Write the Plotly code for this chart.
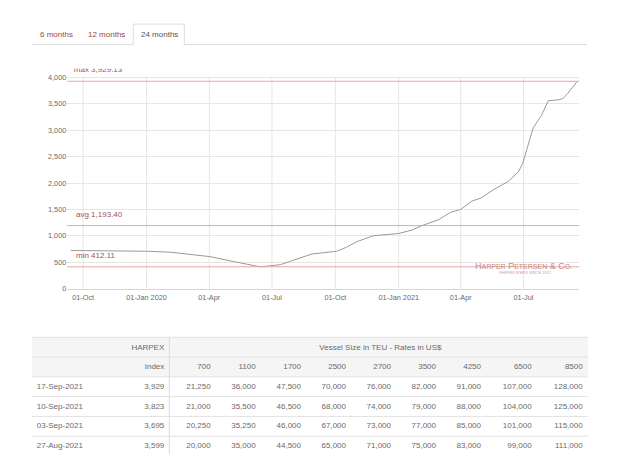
import plotly.graph_objects as go

# Seite hat 8px body-Rand -> Figur etwas kleiner, Koordinaten in Fensterpixeln
OFF = 8
W, H = 636 - 2 * OFF, 467 - 2 * OFF

# HARPEX-Verlauf, 24 Monate
dates = ["2019-09-13", "2019-10-15", "2019-11-08", "2020-01-01", "2020-02-04",
         "2020-03-09", "2020-04-02", "2020-05-06", "2020-05-16", "2020-06-14",
         "2020-07-13", "2020-08-01", "2020-08-28", "2020-09-09", "2020-10-03",
         "2020-10-17", "2020-11-01", "2020-11-25", "2021-01-01", "2021-01-21",
         "2021-02-05", "2021-02-27", "2021-03-18", "2021-04-01", "2021-04-17",
         "2021-05-01", "2021-05-18", "2021-06-09", "2021-06-24", "2021-06-30",
         "2021-07-15", "2021-07-27", "2021-08-06", "2021-08-20", "2021-08-27",
         "2021-09-03", "2021-09-10", "2021-09-17"]
values = [722, 719, 715, 707, 690, 640, 605, 513, 487, 412,
          452, 532, 656, 672, 707, 782, 888, 1001, 1044, 1113,
          1200, 1300, 1450, 1500, 1657, 1719, 1870, 2031, 2219, 2375,
          3044, 3280, 3561, 3575, 3599, 3695, 3823, 3929]

x_ticks = ["2019-10-01", "2020-01-01", "2020-04-01", "2020-07-01",
           "2020-10-01", "2021-01-01", "2021-04-01", "2021-07-01"]
x_ticktext = ["01-Oct", "01-Jan 2020", "01-Apr", "01-Jul",
              "01-Oct", "01-Jan 2021", "01-Apr", "01-Jul"]
y_ticks = [0, 500, 1000, 1500, 2000, 2500, 3000, 3500, 4000]

stat_max = 3929.13
stat_avg = 1193.40
stat_min = 412.11

tabs = ["6 months", "12 months", "24 months"]

# Tabelle
table_dates = ["17-Sep-2021", "10-Sep-2021", "03-Sep-2021", "27-Aug-2021"]
harpex = [3929, 3823, 3695, 3599]
vessel_sizes = [700, 1100, 1700, 2500, 2700, 3500, 4250, 6500, 8500]
rates = [
    [21250, 36000, 47500, 70000, 76000, 82000, 91000, 107000, 128000],
    [21000, 35500, 46500, 68000, 74000, 79000, 88000, 104000, 125000],
    [20250, 35250, 46000, 67000, 73000, 77000, 85000, 101000, 115000],
    [20000, 35000, 44500, 65000, 71000, 75000, 83000, 99000, 111000],
]

# --- Layout-Konstanten (Fensterpixel) ---
PL, PR, PT, PB = 67.3, 579.3, 69.5, 291.7     # Plotfläche
PX_PER_1000 = 53.35
Y_TOP = (PB - PT) / PX_PER_1000 * 1000
X_RANGE = ["2019-09-08", "2021-09-20"]
FONT = "Arial"
GRID = "#e6e6e6"
PLOTLINE = "#eaa4a4"
LABEL = "#a4514d"
TXT = "#6a6a6a"

col_right = [164.3, 210.7, 255.7, 301.0, 346.0, 391.0, 436.0, 481.0, 531.7, 582.7]
row_mid = [351.5, 371.0, 391.0, 411.0, 431.0, 451.0]
row_lines = [341, 361, 381, 401, 421, 441, 461]
T_LEFT, T_RIGHT, T_DIV = 32, 588, 169.3

fig = go.Figure()

fig.add_trace(go.Scatter(x=dates, y=values, mode="lines", hoverinfo="skip",
                         line=dict(color="#9a9a9a", width=1), showlegend=False))

# max-Beschriftung wird oben abgeschnitten (wie im Original)
fig.add_trace(go.Scatter(
    x=["2019-09-17 10:00"], y=[stat_max + 11.3 * 1000 / PX_PER_1000],
    mode="text", text=[f"max {stat_max:,.2f}"], textposition="middle right",
    textfont=dict(family=FONT, size=8, color=LABEL), cliponaxis=True,
    hoverinfo="skip", showlegend=False))

shapes = []
annotations = []

# vertikale Gitterlinien
for t in x_ticks:
    shapes.append(dict(type="line", xref="x", yref="y", x0=t, x1=t, y0=0, y1=4000,
                       line=dict(color=GRID, width=1), layer="below"))

# max / avg / min Linien
for v in (stat_max, stat_avg, stat_min):
    shapes.append(dict(type="line", xref="x domain", yref="y", x0=0, x1=1, y0=v, y1=v,
                       line=dict(color=PLOTLINE, width=1)))
for name, v in (("avg", stat_avg), ("min", stat_min)):
    annotations.append(dict(xref="x domain", yref="y", x=0, y=v, xshift=6.5, yshift=11,
                            xanchor="left", yanchor="middle", showarrow=False,
                            text=f"{name} {v:,.2f}",
                            font=dict(family=FONT, size=8, color=LABEL)))

# Wasserzeichen
sc = "<span style='font-size:7px'>{}</span>"
annotations.append(dict(
    xref="x2", yref="y2", x=523.5, y=269.3, showarrow=False,
    text="H" + sc.format("ARPER") + " P" + sc.format("ETERSEN") + " & C" + sc.format("O."),
    font=dict(family=FONT, size=9, color="#c98787")))
annotations.append(dict(
    xref="x2", yref="y2", x=525.5, y=275.8, showarrow=False,
    text="SHIPBROKERS SINCE 1912",
    font=dict(family=FONT, size=4, color="#c9a3a3")))

# Reiter oben
tab_x = [56.3, 106.8, 159.2]
for i, (label, tx) in enumerate(zip(tabs, tab_x)):
    annotations.append(dict(xref="x2", yref="y2", x=tx, y=35, showarrow=False, text=label,
                            font=dict(family=FONT, size=8,
                                      color="#555555" if i == 2 else "#a0453f")))
tab_line = dict(color="#dddddd", width=1)
shapes += [
    dict(type="line", xref="x2", yref="y2", x0=32, x1=133.3, y0=45, y1=45, line=tab_line),
    dict(type="line", xref="x2", yref="y2", x0=184.3, x1=587, y0=45, y1=45, line=tab_line),
    dict(type="path", xref="x2", yref="y2", path="M133.3,45 L133.3,24.3 L184.3,24.3 L184.3,45",
         line=tab_line),
]

# Tabelle: Hintergrund + Linien
shapes.append(dict(type="rect", xref="x2", yref="y2", x0=T_LEFT, x1=T_RIGHT,
                   y0=row_lines[0], y1=row_lines[2], fillcolor="#f5f5f5",
                   line=dict(width=0), layer="below"))
for ry in row_lines:
    shapes.append(dict(type="line", xref="x2", yref="y2", x0=T_LEFT, x1=T_RIGHT,
                       y0=ry, y1=ry, line=dict(color="#e2e2e2", width=1)))
shapes.append(dict(type="line", xref="x2", yref="y2", x0=T_DIV, x1=T_DIV,
                   y0=row_lines[0], y1=row_lines[-1], line=dict(color="#dddddd", width=1)))

# Tabelle: Zellen
rx, ry, rt = [], [], []
rx.append(col_right[0]); ry.append(row_mid[0]); rt.append("HARPEX")
rx.append(col_right[0]); ry.append(row_mid[1]); rt.append("Index")
for c, s in enumerate(vessel_sizes):
    rx.append(col_right[c + 1]); ry.append(row_mid[1]); rt.append(str(s))
for r in range(len(table_dates)):
    rx.append(col_right[0]); ry.append(row_mid[r + 2]); rt.append(f"{harpex[r]:,}")
    for c, v in enumerate(rates[r]):
        rx.append(col_right[c + 1]); ry.append(row_mid[r + 2]); rt.append(f"{v:,}")

lx = [319.3] + [36.7] * len(table_dates)
ly = [row_mid[0]] + row_mid[2:]
lt = ["Vessel Size in TEU - Rates in US$"] + table_dates

fig.add_trace(go.Scatter(x=rx, y=ry, text=rt, mode="text", textposition="middle left",
                         textfont=dict(family=FONT, size=8, color=TXT),
                         xaxis="x2", yaxis="y2", hoverinfo="skip", showlegend=False))
fig.add_trace(go.Scatter(x=lx, y=ly, text=lt, mode="text", textposition="middle right",
                         textfont=dict(family=FONT, size=8, color=TXT),
                         xaxis="x2", yaxis="y2", hoverinfo="skip", showlegend=False))

fig.update_layout(
    width=W, height=H, autosize=False,
    margin=dict(l=0, r=0, t=0, b=0),
    paper_bgcolor="white", plot_bgcolor="rgba(0,0,0,0)",
    font=dict(family=FONT, size=8, color=TXT),
    shapes=shapes, annotations=annotations,
    xaxis=dict(domain=[(PL - OFF) / W, (PR - OFF) / W], range=X_RANGE, type="date",
               tickvals=x_ticks, ticktext=x_ticktext, showgrid=False, zeroline=False,
               showline=True, linecolor="#d6d6d6", ticks="", ticklabelstandoff=2,
               tickfont=dict(family=FONT, size=7.3, color=TXT), fixedrange=True),
    yaxis=dict(domain=[1 - (PB - OFF) / H, 1 - (PT - OFF) / H], range=[0, Y_TOP],
               tickvals=y_ticks, tickformat=",", gridcolor=GRID, zeroline=False, ticks="",
               tickfont=dict(family=FONT, size=7.3, color=TXT), fixedrange=True),
    xaxis2=dict(domain=[0, 1], range=[OFF, OFF + W], visible=False, anchor="y2",
                fixedrange=True),
    yaxis2=dict(domain=[0, 1], range=[OFF + H, OFF], visible=False, anchor="x2",
                fixedrange=True),
)

fig.write_html("out.html")
